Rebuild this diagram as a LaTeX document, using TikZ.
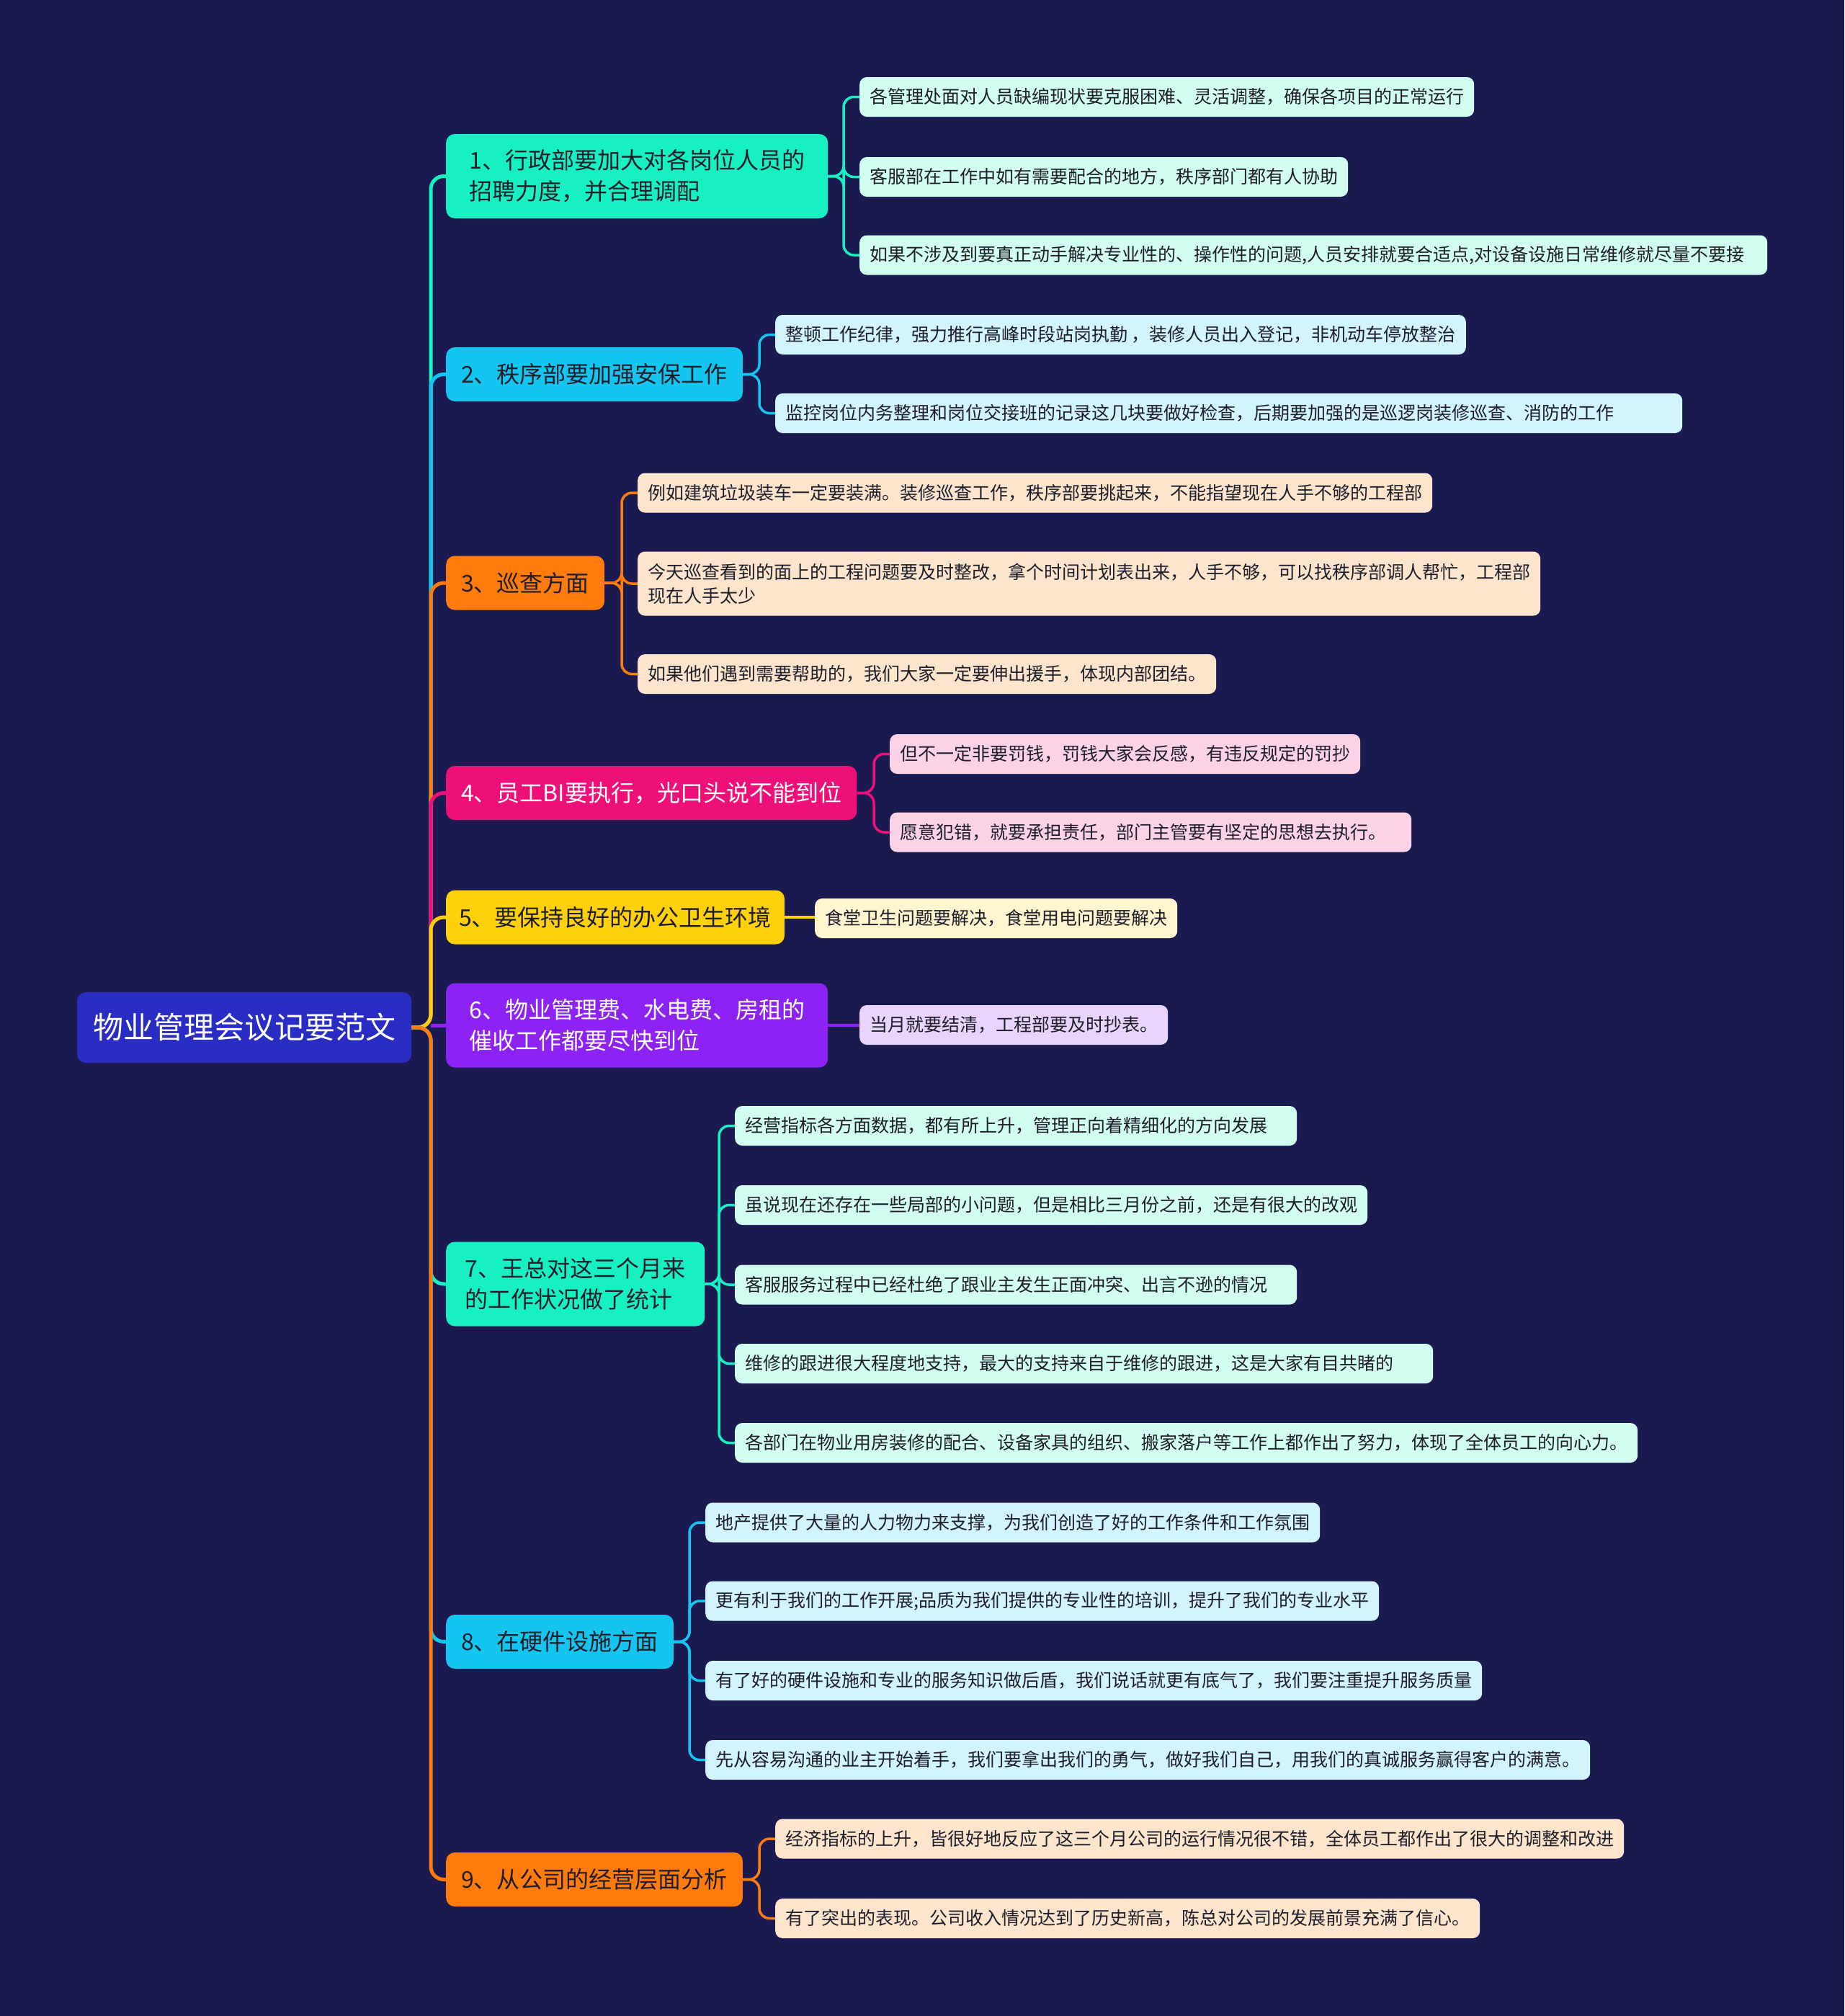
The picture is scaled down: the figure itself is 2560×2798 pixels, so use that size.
\documentclass[tikz,border=0pt]{standalone}
\usepackage{fontspec}
\setmainfont{Noto Sans CJK SC}
\usetikzlibrary{positioning}
\definecolor{bgc}{HTML}{1B1A50}
\definecolor{rootc}{HTML}{2A2DC3}
\definecolor{cA}{HTML}{17F0C3}
\definecolor{cB}{HTML}{14C5EF}
\definecolor{cC}{HTML}{FF7B0C}
\definecolor{cD}{HTML}{EE0F78}
\definecolor{cE}{HTML}{FFD10A}
\definecolor{cF}{HTML}{8C22F3}
\definecolor{lA}{HTML}{D2FDF1}
\definecolor{lB}{HTML}{D2F4FD}
\definecolor{lC}{HTML}{FDE5CD}
\definecolor{lD}{HTML}{FCD2E6}
\definecolor{lE}{HTML}{FFF6D0}
\definecolor{lF}{HTML}{E8D4FC}
\definecolor{darktext}{HTML}{1E1E2A}
\tikzset{
  rootbox/.style={fill=rootc, rounded corners=12pt, text=white, font=\fontsize{42}{50}\selectfont, inner xsep=22pt, minimum height=98pt, anchor=west},
  brbox/.style={rounded corners=12pt, font=\fontsize{32}{43}\selectfont, inner xsep=21pt, inner ysep=8pt, minimum height=75pt, anchor=west, align=left, text=darktext},
  leafbox/.style={rounded corners=10pt, font=\fontsize{25}{33}\selectfont, inner xsep=14pt, minimum height=55pt, anchor=west, align=left, text=darktext},
  trunk/.style={line width=5pt, rounded corners=18pt},
  twig/.style={line width=3.5pt, rounded corners=14pt},
}
\begin{document}
\begin{tikzpicture}[x=1pt,y=-1pt]
\fill[bgc] (0,0) rectangle (2560,2798);
\useasboundingbox (0,0) rectangle (2560,2798);

% root
\node[rootbox] (root) at (107,1426) {物业管理会议记要范文};

% branches
\node[brbox, fill=cA, minimum height=117pt, minimum width=530pt] (b1) at (619,244.5) {1、行政部要加大对各岗位人员的\\招聘力度，并合理调配};
\node[brbox, fill=cB] (b2) at (619,519.5) {2、秩序部要加强安保工作};
\node[brbox, fill=cC] (b3) at (619,809) {3、巡查方面};
\node[brbox, fill=cD, text=white] (b4) at (619,1100.5) {4、员工BI要执行，光口头说不能到位};
\node[brbox, fill=cE, inner xsep=18pt] (b5) at (619,1273) {5、要保持良好的办公卫生环境};
\node[brbox, fill=cF, text=white, minimum height=117pt, minimum width=530pt] (b6) at (619,1423) {6、物业管理费、水电费、房租的\\催收工作都要尽快到位};
\node[brbox, fill=cA, minimum height=117pt, minimum width=359pt] (b7) at (619,1782) {7、王总对这三个月来\\的工作状况做了统计};
\node[brbox, fill=cB] (b8) at (619,2278.5) {8、在硬件设施方面};
\node[brbox, fill=cC] (b9) at (619,2608.5) {9、从公司的经营层面分析};

% leaves
\node[leafbox, fill=lA] (l1a) at (1193,134.5) {各管理处面对人员缺编现状要克服困难、灵活调整，确保各项目的正常运行};
\node[leafbox, fill=lA] (l1b) at (1193,245.5) {客服部在工作中如有需要配合的地方，秩序部门都有人协助};
\node[leafbox, fill=lA, text width=1232pt] (l1c) at (1193,354) {如果不涉及到要真正动手解决专业性的、操作性的问题,人员安排就要合适点,对设备设施日常维修就尽量不要接};

\node[leafbox, fill=lB] (l2a) at (1076,464.5) {整顿工作纪律，强力推行高峰时段站岗执勤 ，装修人员出入登记，非机动车停放整治};
\node[leafbox, fill=lB, text width=1231pt] (l2b) at (1076,573.5) {监控岗位内务整理和岗位交接班的记录这几块要做好检查，后期要加强的是巡逻岗装修巡查、消防的工作};

\node[leafbox, fill=lC] (l3a) at (885,684) {例如建筑垃圾装车一定要装满。装修巡查工作，秩序部要挑起来，不能指望现在人手不够的工程部};
\node[leafbox, fill=lC, minimum height=89pt] (l3b) at (885,810) {今天巡查看到的面上的工程问题要及时整改，拿个时间计划表出来，人手不够，可以找秩序部调人帮忙，工程部\\现在人手太少};
\node[leafbox, fill=lC] (l3c) at (885,935.5) {如果他们遇到需要帮助的，我们大家一定要伸出援手，体现内部团结。};

\node[leafbox, fill=lD] (l4a) at (1235,1046.5) {但不一定非要罚钱，罚钱大家会反感，有违反规定的罚抄};
\node[leafbox, fill=lD, text width=696pt] (l4b) at (1235,1155) {愿意犯错，就要承担责任，部门主管要有坚定的思想去执行。};

\node[leafbox, fill=lE] (l5a) at (1131,1274.5) {食堂卫生问题要解决，食堂用电问题要解决};

\node[leafbox, fill=lF] (l6a) at (1193,1422.5) {当月就要结清，工程部要及时抄表。};

\node[leafbox, fill=lA, text width=752pt] (l7a) at (1020,1562.5) {经营指标各方面数据，都有所上升，管理正向着精细化的方向发展};
\node[leafbox, fill=lA] (l7b) at (1020,1672.5) {虽说现在还存在一些局部的小问题，但是相比三月份之前，还是有很大的改观};
\node[leafbox, fill=lA, text width=752pt] (l7c) at (1020,1783) {客服服务过程中已经杜绝了跟业主发生正面冲突、出言不逊的情况};
\node[leafbox, fill=lA, text width=941pt] (l7d) at (1020,1892.5) {维修的跟进很大程度地支持，最大的支持来自于维修的跟进，这是大家有目共睹的};
\node[leafbox, fill=lA] (l7e) at (1020,2002.5) {各部门在物业用房装修的配合、设备家具的组织、搬家落户等工作上都作出了努力，体现了全体员工的向心力。};

\node[leafbox, fill=lB] (l8a) at (979,2113) {地产提供了大量的人力物力来支撑，为我们创造了好的工作条件和工作氛围};
\node[leafbox, fill=lB] (l8b) at (979,2222) {更有利于我们的工作开展;品质为我们提供的专业性的培训，提升了我们的专业水平};
\node[leafbox, fill=lB] (l8c) at (979,2332.5) {有了好的硬件设施和专业的服务知识做后盾，我们说话就更有底气了，我们要注重提升服务质量};
\node[leafbox, fill=lB] (l8d) at (979,2442.5) {先从容易沟通的业主开始着手，我们要拿出我们的勇气，做好我们自己，用我们的真诚服务赢得客户的满意。};

\node[leafbox, fill=lC] (l9a) at (1076,2552) {经济指标的上升，皆很好地反应了这三个月公司的运行情况很不错，全体员工都作出了很大的调整和改进};
\node[leafbox, fill=lC] (l9b) at (1076,2662.5) {有了突出的表现。公司收入情况达到了历史新高，陈总对公司的发展前景充满了信心。};

% trunk connectors (root to branches)
\draw[trunk, cA] (root.east) -| ([xshift=-21pt]b1.west) -- (b1.west);
\draw[trunk, cB] (root.east) -| ([xshift=-21pt]b2.west) -- (b2.west);
\draw[trunk, cC] (root.east) -| ([xshift=-21pt]b3.west) -- (b3.west);
\draw[trunk, cD] (root.east) -| ([xshift=-21pt]b4.west) -- (b4.west);
\draw[trunk, cE] (root.east) -| ([xshift=-21pt]b5.west) -- (b5.west);
\draw[trunk, cF] ([xshift=-21pt]b6.west) -- (b6.west);
\draw[trunk, cA] (root.east) -| ([xshift=-21pt]b7.west) -- (b7.west);
\draw[trunk, cB] (root.east) -| ([xshift=-21pt]b8.west) -- (b8.west);
\draw[trunk, cC] (root.east) -| ([xshift=-21pt]b9.west) -- (b9.west);

% branch to leaf connectors
\foreach \b/\c/\ls in {b1/cA/{l1a,l1b,l1c}, b2/cB/{l2a,l2b}, b3/cC/{l3a,l3b,l3c}, b4/cD/{l4a,l4b}, b7/cA/{l7a,l7b,l7c,l7d,l7e}, b8/cB/{l8a,l8b,l8c,l8d}, b9/cC/{l9a,l9b}}{
  \foreach \l in \ls {
    \draw[twig, \c] (\b.east) -| ([xshift=-22pt]\l.west) -- (\l.west);
  }
}
\draw[twig, cE] (b5.east) -- (b5.east -| l5a.west);
\draw[twig, cF] (b6.east) -- (b6.east -| l6a.west);
\end{tikzpicture}
\end{document}
